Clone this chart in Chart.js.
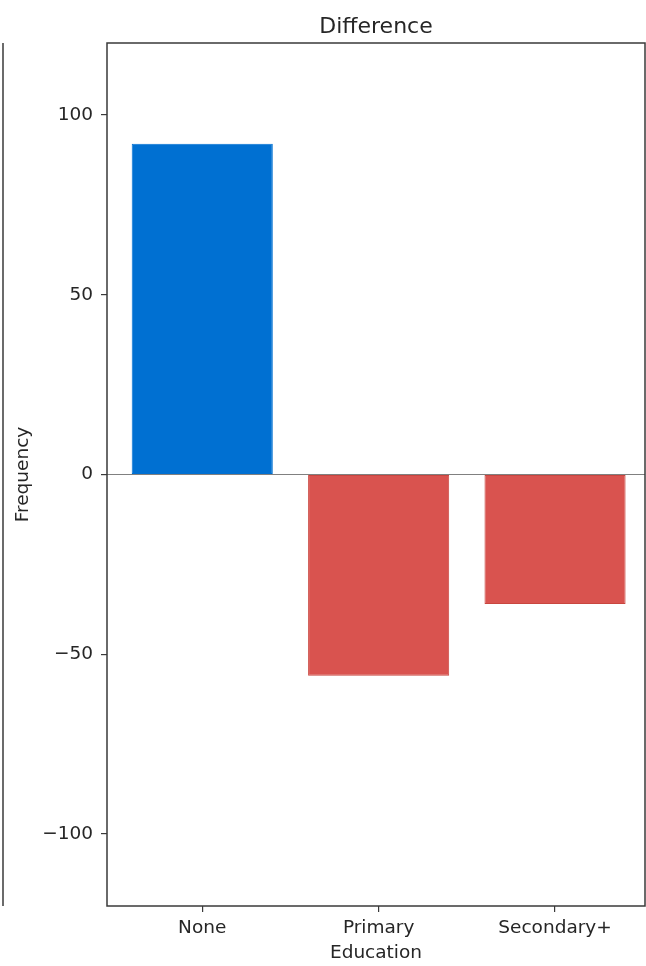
<!DOCTYPE html>
<html>
<head>
<meta charset="utf-8">
<script src="https://cdn.jsdelivr.net/npm/chart.js@4.4.1/dist/chart.umd.min.js"></script>
<style>
html,body{margin:0;padding:0;background:#fff;overflow:hidden;}
#wrap{width:646px;height:966px;position:relative;}
canvas{display:block;}
</style>
</head>
<body>
<div id="wrap"><canvas id="c" width="646" height="966"></canvas></div>
<script>
const categories = ["None", "Primary", "Secondary+"];
const differenceValues = [92, -56, -36];
const barColors = ["#0070d2", "#d9534f", "#d9534f"];
const barEdgeColors = ["#0070d2", "#c9463f", "#c9463f"];
const yTickValues = [-100, -50, 0, 50, 100];
const xTickValues = [0, 1, 2];
const titleText = "Difference";
const xAxisTitle = "Education";
const yAxisTitle = "Frequency";

const FONT = "'DejaVu Sans', sans-serif";
const TEXT = "#262626";
const SPINE = "#3a3a3a";

const framePlugin = {
  id: 'frame',
  beforeDatasetsDraw(chart) {
    const {ctx, chartArea, scales} = chart;
    const y0 = scales.y.getPixelForValue(0);
    ctx.save();
    ctx.strokeStyle = "#808080";
    ctx.lineWidth = 1.2;
    ctx.beginPath();
    ctx.moveTo(chartArea.left, y0);
    ctx.lineTo(chartArea.right, y0);
    ctx.stroke();
    ctx.restore();
  },
  afterDatasetsDraw(chart) {
    const {ctx, chartArea} = chart;
    ctx.save();
    ctx.strokeStyle = SPINE;
    ctx.lineWidth = 1.5;
    ctx.strokeRect(chartArea.left, chartArea.top, chartArea.right - chartArea.left, chartArea.bottom - chartArea.top);
    // spine of neighbouring panel at far left
    ctx.beginPath();
    ctx.moveTo(3, chartArea.top);
    ctx.lineTo(3, chartArea.bottom);
    ctx.stroke();
    // axes title, centred over the plot area
    ctx.fillStyle = TEXT;
    ctx.font = "22px " + FONT;
    ctx.textAlign = 'center';
    ctx.textBaseline = 'middle';
    ctx.fillText(titleText, (chartArea.left + chartArea.right) / 2, 27);
    ctx.restore();
  }
};

new Chart(document.getElementById('c'), {
  type: 'bar',
  data: {
    datasets: [{
      data: xTickValues.map((x, i) => ({x: x, y: differenceValues[i]})),
      backgroundColor: barColors,
      borderColor: barEdgeColors,
      borderWidth: 1,
      borderSkipped: false,
      barPercentage: 0.8,
      categoryPercentage: 1.0
    }]
  },
  options: {
    responsive: false,
    animation: false,
    devicePixelRatio: 1,
    layout: {padding: {left: 0, right: 1, top: 43, bottom: 0}},
    plugins: {
      legend: {display: false},
      tooltip: {enabled: false},
      title: {display: false}
    },
    scales: {
      x: {
        type: 'linear',
        offset: false,
        min: -0.54,
        max: 2.51,
        afterBuildTicks(scale) { scale.ticks = xTickValues.map(v => ({value: v})); },
        afterFit(scale) { scale.height = 60; },
        ticks: {
          color: TEXT,
          font: {family: FONT, size: 18.5},
          padding: 5,
          maxRotation: 0,
          autoSkip: false,
          callback: (v) => categories[v]
        },
        grid: {display: true, offset: false, drawOnChartArea: false, drawTicks: true, tickLength: 6, color: SPINE, lineWidth: 1.2},
        border: {display: false},
        title: {display: true, text: xAxisTitle, color: TEXT, font: {family: FONT, size: 18.5}, padding: {top: 0, bottom: 2}}
      },
      y: {
        min: -120,
        max: 120,
        afterBuildTicks(scale) { scale.ticks = yTickValues.map(v => ({value: v})); },
        afterFit(scale) { scale.width = 107; },
        ticks: {
          color: TEXT,
          font: {family: FONT, size: 18.5},
          padding: 8,
          callback: (v) => v < 0 ? '\u2212' + Math.abs(v) : String(v)
        },
        grid: {display: true, drawOnChartArea: false, drawTicks: true, tickLength: 6, color: SPINE, lineWidth: 1.2},
        border: {display: false},
        title: {display: true, text: yAxisTitle, color: TEXT, font: {family: FONT, size: 18.5}, padding: {top: 12, bottom: 0}}
      }
    }
  },
  plugins: [framePlugin]
});
</script>
</body>
</html>
